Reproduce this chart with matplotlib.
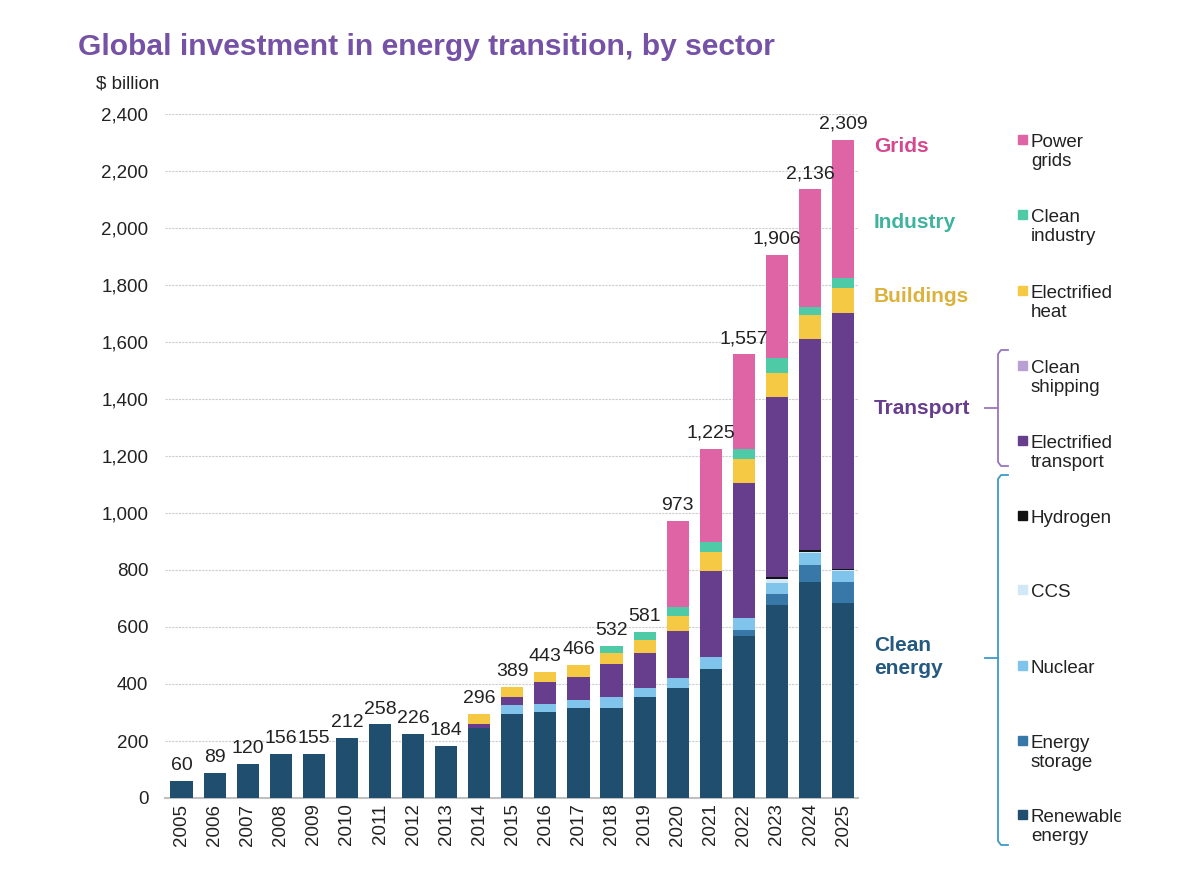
import matplotlib
matplotlib.use("Agg")
import matplotlib.pyplot as plt
from matplotlib.lines import Line2D
from matplotlib.patches import Rectangle
import numpy as np

plt.rcParams['font.family'] = ['Liberation Sans', 'DejaVu Sans']

years = [str(y) for y in range(2005, 2026)]

renewable = [60, 89, 120, 156, 155, 212, 258, 226, 184, 245, 293, 301, 315, 317, 355, 387, 453, 568, 677, 757, 685]
storage   = [0, 0, 0, 0, 0, 0, 0, 0, 0, 0, 0, 0, 0, 0, 0, 0, 0, 21, 39, 60, 72]
nuclear   = [0, 0, 0, 0, 0, 0, 0, 0, 0, 0, 33, 29, 29, 36, 32, 35, 41, 41, 40, 42, 41]
ccs       = [0, 0, 0, 0, 0, 0, 0, 0, 0, 0, 0, 0, 0, 0, 0, 0, 0, 0, 11, 3, 2]
hydrogen  = [0, 0, 0, 0, 0, 0, 0, 0, 0, 0, 0, 0, 0, 0, 0, 0, 0, 0, 10, 8, 3]
transport = [0, 0, 0, 0, 0, 0, 0, 0, 0, 15, 29, 77, 82, 116, 121, 165, 303, 474, 631, 741, 898]
shipping  = [0, 0, 0, 0, 0, 0, 0, 0, 0, 0, 0, 0, 0, 0, 0, 0, 0, 0, 0, 0, 0]
heat      = [0, 0, 0, 0, 0, 0, 0, 0, 0, 36, 34, 36, 40, 39, 46, 52, 67, 84, 82, 84, 87]
industry  = [0, 0, 0, 0, 0, 0, 0, 0, 0, 0, 0, 0, 0, 24, 27, 30, 35, 35, 53, 29, 38]
grids     = [0, 0, 0, 0, 0, 0, 0, 0, 0, 0, 0, 0, 0, 0, 0, 304, 326, 334, 363, 412, 483]

# bottom to top
series = [
    ("Renewable\nenergy", renewable, "#1f4e6e"),
    ("Energy\nstorage", storage, "#3878a8"),
    ("Nuclear", nuclear, "#80c4ec"),
    ("CCS", ccs, "#d2e8f6"),
    ("Hydrogen", hydrogen, "#111111"),
    ("Electrified\ntransport", transport, "#673d8d"),
    ("Clean\nshipping", shipping, "#b9a0d2"),
    ("Electrified\nheat", heat, "#f6c944"),
    ("Clean\nindustry", industry, "#4fcaa6"),
    ("Power\ngrids", grids, "#de64a6"),
]

W, H = 1200, 889
fig = plt.figure(figsize=(12, 8.89), dpi=100)


def fx(x):
    return x / W


def fy(y):
    return 1 - y / H


ax = fig.add_axes([fx(165), fy(798), fx(858) - fx(165), fy(114) - fy(798)])

x = np.arange(len(years))
bottom = np.zeros(len(years))
for name, vals, col in series:
    ax.bar(x, vals, width=0.67, bottom=bottom, color=col, linewidth=0, zorder=3)
    bottom += np.array(vals)

for i, tot in enumerate(bottom):
    ax.annotate(f"{int(tot):,}", (x[i], tot), xytext=(0, 5), textcoords="offset points",
                ha="center", va="bottom", fontsize=14, color="#222222")

ax.set_xlim(-0.5, len(years) - 0.55)
ax.set_ylim(0, 2400)
ax.set_yticks(range(0, 2401, 200))
ax.set_yticklabels([f"{v:,}" for v in range(0, 2401, 200)])
ax.set_xticks(x)
ax.set_xticklabels(years, rotation=90)
ax.tick_params(axis="both", length=0, labelsize=13.5, colors="#222222")
ax.tick_params(axis="y", pad=12)
ax.tick_params(axis="x", pad=4)
ax.yaxis.grid(True, color="#cccccc", linestyle=(0, (2, 1)), linewidth=0.8, zorder=0)
for s in ["top", "right", "left"]:
    ax.spines[s].set_visible(False)
ax.spines["bottom"].set_color("#c0c0c0")
ax.spines["bottom"].set_linewidth(1.5)

fig.text(fx(78), fy(47), "Global investment in energy transition, by sector",
         fontsize=21.6, fontweight="bold", color="#7552a6", va="center", ha="left")
fig.text(fx(96), fy(84), "$ billion", fontsize=13.5, color="#222222", va="center", ha="left")

# sector group labels
groups = [
    ("Grids", 147, "#d5488f"),
    ("Industry", 222, "#3eb39e"),
    ("Buildings", 297, "#dcb23c"),
    ("Transport", 408, "#673d8d"),
    ("Clean\nenergy", 657, "#245a80"),
]
for txt, yy, col in groups:
    fig.text(fx(874), fy(yy), txt, fontsize=15, fontweight="bold", color=col,
             va="center", ha="left", linespacing=1.25)

# legend, first-line centres in pixels (top entry first)
legend_y = [141, 216, 292, 367, 442, 517, 591, 667, 742, 816]
for (name, vals, col), yy in zip(series[::-1], legend_y):
    fig.patches.append(Rectangle((fx(1018), fy(yy + 3)), fx(9), 9 / H,
                                 transform=fig.transFigure, color=col))
    fig.text(fx(1031), fy(yy - 7), name, fontsize=13.5, color="#222222",
             va="top", ha="left", linespacing=1.15)


def bracket(x0, y_top, y_bot, y_mid, col):
    kw = dict(transform=fig.transFigure, color=col, linewidth=1.3)
    fig.lines.append(Line2D([fx(x0 + 10), fx(x0 + 3), fx(x0), fx(x0), fx(x0 + 3), fx(x0 + 10)],
                            [fy(y_top), fy(y_top), fy(y_top + 4), fy(y_bot - 4), fy(y_bot), fy(y_bot)], **kw))
    fig.lines.append(Line2D([fx(x0 - 13), fx(x0)], [fy(y_mid), fy(y_mid)], **kw))


bracket(998, 350, 466, 408, "#9b74bd")
bracket(998, 475, 845, 658, "#3d9bc9")

# reference image is cut off at the right
fig.patches.append(Rectangle((fx(1121), 0), 1 - fx(1121), 1, transform=fig.transFigure,
                             color="white", zorder=10))

fig.savefig("out.png", dpi=100, facecolor="white")
